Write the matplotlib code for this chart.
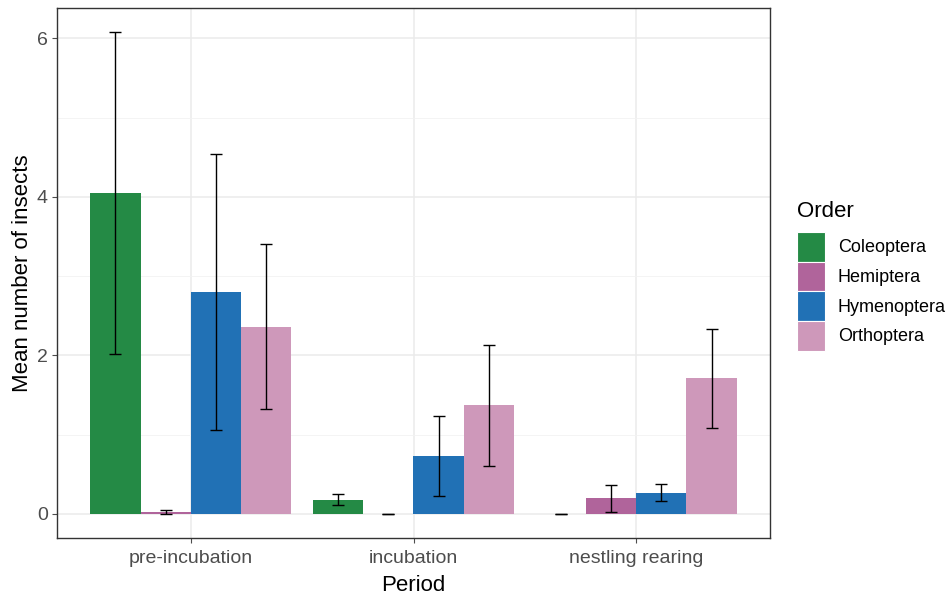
import numpy as np
import matplotlib.pyplot as plt
from matplotlib.patches import Patch
from matplotlib.ticker import MultipleLocator

plt.rcParams['font.family'] = ['Liberation Sans', 'DejaVu Sans']

periods = ['pre-incubation', 'incubation', 'nestling rearing']
orders = ['Coleoptera', 'Hemiptera', 'Hymenoptera', 'Orthoptera']
colores = ['#248A45', '#B0649B', '#2171B5', '#CE98BA']

# mean per period, one list per order
coleoptera = [4.05, 0.18, 0.0]
hemiptera = [0.02, 0.0, 0.20]
hymenoptera = [2.80, 0.73, 0.27]
orthoptera = [2.36, 1.37, 1.71]

# error (+/-) per period
err_coleoptera = [2.03, 0.07, 0.0]
err_hemiptera = [0.025, 0.0, 0.17]
err_hymenoptera = [1.74, 0.51, 0.11]
err_orthoptera = [1.04, 0.76, 0.62]

medias = [coleoptera, hemiptera, hymenoptera, orthoptera]
erros = [err_coleoptera, err_hemiptera, err_hymenoptera, err_orthoptera]

fig = plt.figure(figsize=(9.51, 5.95), dpi=100)
ax = fig.add_axes([57 / 951, 57 / 595, 713 / 951, 530 / 595])

indice = np.arange(1, len(periods) + 1)
bar_larg = 0.225
for i, (m, e, c) in enumerate(zip(medias, erros, colores)):
    pos = indice - 0.45 + bar_larg * (i + 0.5)
    ax.bar(pos, m, bar_larg, color=c, zorder=2)
    ax.errorbar(pos, m, yerr=e, fmt='none', ecolor='black', elinewidth=1,
                capsize=4, capthick=1, zorder=3)

ax.set_xlim(0.4, 3.6)
ax.set_ylim(-0.304, 6.384)
ax.set_xticks(indice)
ax.set_xticklabels(periods)
ax.yaxis.set_major_locator(MultipleLocator(2))
ax.yaxis.set_minor_locator(MultipleLocator(1))
ax.grid(which='major', color='#EBEBEB', linewidth=1.1, zorder=0)
ax.grid(which='minor', axis='y', color='#F2F2F2', linewidth=0.6, zorder=0)
ax.set_axisbelow(True)
ax.tick_params(axis='both', which='major', labelsize=14, colors='#4D4D4D',
               length=3.5, width=0.8, labelcolor='#4D4D4D', pad=3)
ax.tick_params(axis='x', which='major', pad=5)
ax.tick_params(axis='y', which='minor', length=0)
for s in ax.spines.values():
    s.set_color('#333333')
    s.set_linewidth(1)

ax.set_xlabel('Period', fontsize=16, labelpad=6)
ax.set_ylabel('Mean number of insects', fontsize=16, labelpad=3)

# legend: title as separate text, keys stacked without gaps
fig.text(797 / 951, 1 - 201 / 595, 'Order', fontsize=16, ha='left', va='top')
handles = [Patch(facecolor=c, edgecolor='white', linewidth=0.8) for c in colores]
leg = ax.legend(handles, orders, loc='upper left',
                bbox_to_anchor=(797 / 951, 1 - 232 / 595),
                bbox_transform=fig.transFigure, frameon=False, fontsize=13,
                handlelength=1.55, handleheight=2.15, handletextpad=0.72,
                labelspacing=0.0, borderaxespad=0, borderpad=0)

fig.savefig('out.png', dpi=100)
